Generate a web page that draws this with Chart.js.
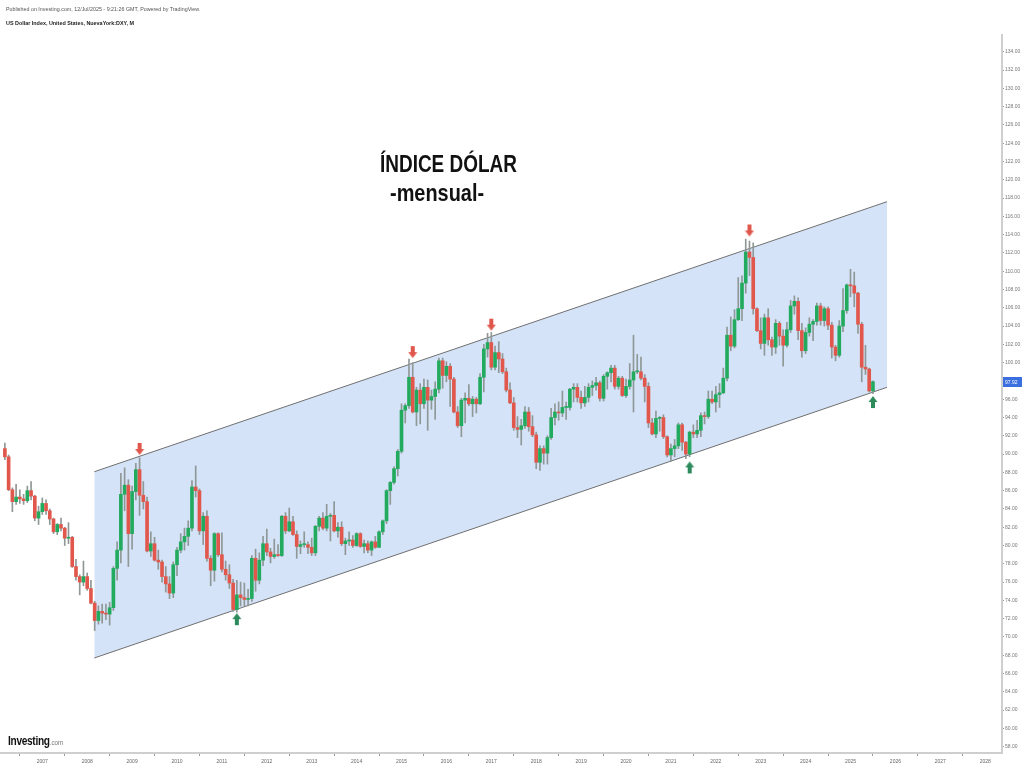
<!DOCTYPE html>
<html>
<head>
<meta charset="utf-8">
<script src="https://cdn.jsdelivr.net/npm/chart.js@4.4.1/dist/chart.umd.min.js"></script>
<style>
  html, body { margin: 0; padding: 0; background: #fff; }
  #wrap { position: relative; width: 1024px; height: 768px; overflow: hidden; }
  #grafico { position: absolute; left: 0; top: 0; }
  .txt { position: absolute; white-space: nowrap; font-family: 'Liberation Sans', Arial, sans-serif; transform-origin: 0 0; }
  #pub { left: 6px; top: 6px; font-size: 6px; color: #555; transform: scaleX(0.89); }
  #sym { left: 6px; top: 20px; font-size: 6px; font-weight: bold; color: #222; transform: scaleX(0.9); }
  #titulo { left: 380px; top: 150px; font-size: 24px; font-weight: bold; color: #111; transform: scaleX(0.79); }
  #sub { left: 390px; top: 179px; font-size: 24px; font-weight: bold; color: #111; transform: scaleX(0.83); }
  #logo { left: 8px; top: 733px; font-size: 13px; font-weight: bold; color: #111; letter-spacing: -0.4px; transform: scaleX(0.78); }
  #logo span { font-size: 8px; font-weight: normal; color: #777; letter-spacing: 0; }
</style>
</head>
<body>
<div id="wrap">
  <canvas id="grafico" width="1024" height="768"></canvas>
  <div class="txt" id="pub">Published on Investing.com, 12/Jul/2025 - 9:21:26 GMT, Powered by TradingView.</div>
  <div class="txt" id="sym">US Dollar Index, United States, NuevaYork:DXY, M</div>
  <div class="txt" id="titulo">ÍNDICE DÓLAR</div>
  <div class="txt" id="sub">-mensual-</div>
  <div class="txt" id="logo">Investing<span>.com</span></div>
</div>
<script>
// velas mensais do DXY, primeira vela = mar/2006
const inicio = { ano: 2006, mes: 3 };

const abertura = [
  90.6, 89.7, 86.1, 84.8, 85.3, 85.1, 84.9, 86.0, 85.4, 83.0,                 // 2006
  83.7, 84.6, 83.8, 82.9, 81.5, 82.3, 81.9, 80.8, 80.9, 77.7, 76.6, 76.0,     // 2007
  76.6, 75.3, 73.7, 71.8, 72.8, 72.6, 72.5, 73.2, 77.5, 79.5, 85.6, 86.6,     // 2008
  81.3, 85.9, 88.3, 85.5, 84.8, 79.4, 80.2, 78.4, 78.2, 76.6, 75.8, 74.8,     // 2009
  77.9, 79.5, 80.4, 81.0, 81.9, 86.4, 86.0, 81.6, 83.2, 78.6, 77.3, 81.3,     // 2010
  79.0, 77.4, 76.8, 75.9, 73.0, 74.6, 74.3, 74.1, 74.2, 78.6, 76.2, 78.4,     // 2011
  80.2, 79.3, 78.8, 79.0, 78.9, 83.2, 81.6, 82.6, 81.2, 79.9, 80.1, 80.1,     // 2012
  79.8, 79.2, 82.1, 83.0, 81.9, 83.2, 83.3, 81.6, 82.0, 80.2, 80.5, 80.6,     // 2013
  80.0, 81.3, 79.9, 80.2, 79.5, 80.4, 79.8, 81.5, 82.7, 86.0, 86.9, 88.4,     // 2014
  90.3, 94.8, 95.3, 98.4, 94.6, 97.0, 95.5, 97.3, 95.9, 96.3, 97.1, 100.2,    // 2015
  98.6, 99.6, 98.2, 94.6, 93.1, 95.9, 96.1, 95.5, 96.0, 95.5, 98.4, 101.5,    // 2016
  102.2, 99.5, 101.1, 100.4, 99.0, 97.0, 95.6, 92.9, 92.7, 93.1, 94.6, 93.0,  // 2017
  92.1, 89.1, 90.6, 90.1, 91.8, 94.0, 94.6, 94.5, 95.1, 95.1, 97.1, 97.3,     // 2018
  96.2, 95.6, 96.2, 97.3, 97.5, 97.8, 96.1, 98.5, 98.9, 99.4, 97.4, 98.3,     // 2019
  96.4, 97.4, 98.1, 99.0, 99.0, 98.3, 97.4, 93.4, 92.2, 93.9, 94.0, 91.9,     // 2020
  89.9, 90.6, 90.9, 93.2, 91.3, 90.0, 92.4, 92.2, 92.6, 94.2, 94.1, 96.0,     // 2021
  95.7, 96.5, 96.7, 98.3, 103.0, 101.8, 104.7, 105.9, 108.7, 112.1, 111.5, 105.9, // 2022
  103.5, 102.1, 104.9, 102.5, 101.7, 104.3, 102.9, 101.9, 103.6, 106.2, 106.7, 103.5, // 2023
  101.3, 103.3, 104.2, 104.5, 106.2, 104.6, 105.9, 104.1, 101.7, 100.8, 104.0, 105.7, // 2024
  108.5, 108.4, 107.6, 104.2, 99.5, 99.3, 96.9                                 // 2025
];

const maxima = [
  91.2, 89.9, 86.3, 86.7, 86.1, 85.6, 86.5, 87.0, 85.5, 84.3,
  85.2, 85.0, 84.0, 83.0, 82.4, 83.0, 82.0, 82.5, 81.0, 78.5, 76.8, 78.3,
  77.0, 76.2, 73.9, 73.4, 73.6, 73.6, 73.8, 77.7, 80.4, 87.9, 88.5, 87.2,
  86.5, 89.0, 89.6, 87.0, 85.3, 81.5, 80.9, 79.5, 78.4, 77.7, 76.6, 78.2,
  79.8, 81.3, 81.9, 82.7, 87.1, 88.7, 86.2, 83.6, 83.8, 78.9, 81.4, 81.4,
  81.4, 78.3, 77.9, 76.3, 76.2, 76.0, 75.9, 75.2, 78.9, 79.6, 79.2, 81.0,
  81.8, 79.7, 80.7, 80.1, 83.3, 83.6, 84.1, 83.2, 81.6, 80.5, 81.5, 80.4,
  80.8, 82.2, 83.2, 83.6, 84.5, 83.5, 84.8, 82.5, 82.6, 80.8, 81.5, 81.1,
  81.4, 81.4, 80.6, 80.5, 80.5, 81.0, 81.6, 82.8, 86.1, 87.0, 88.6, 90.5,
  95.5, 95.5, 100.4, 100.0, 97.3, 97.7, 98.2, 98.1, 97.0, 97.9, 100.5, 100.5,
  100.1, 99.9, 98.4, 95.2, 96.1, 96.7, 97.6, 96.3, 96.2, 98.8, 102.0, 103.2,
  103.3, 101.8, 102.3, 101.0, 99.4, 97.8, 96.2, 94.1, 93.8, 95.2, 95.1, 94.2,
  92.4, 90.9, 90.9, 92.0, 95.0, 95.5, 95.7, 96.9, 95.7, 97.2, 97.7, 97.7,
  96.9, 97.4, 97.7, 98.0, 98.4, 98.0, 98.7, 99.0, 99.7, 99.7, 98.5, 98.5,
  98.2, 99.9, 103.0, 100.9, 100.6, 98.7, 97.8, 93.9, 94.7, 94.1, 94.3, 92.0,
  91.1, 91.6, 93.4, 93.4, 91.4, 92.5, 93.2, 93.7, 94.5, 94.6, 96.9, 96.9,
  97.4, 97.7, 99.4, 103.9, 105.0, 105.8, 109.3, 109.5, 113.5, 113.3, 113.1, 106.0,
  104.9, 105.3, 105.9, 102.8, 104.7, 104.5, 103.6, 104.4, 106.8, 107.3, 107.1, 104.3,
  103.8, 104.9, 104.7, 106.5, 106.5, 106.1, 106.1, 104.4, 101.9, 104.6, 108.1, 108.6,
  110.2, 109.9, 107.7, 104.4, 101.9, 99.4, 98.0
];

const minima = [
  89.4, 86.0, 83.7, 84.5, 84.6, 84.5, 84.7, 85.0, 82.7, 82.3,
  83.4, 83.4, 82.3, 81.3, 81.2, 81.6, 80.0, 80.2, 77.6, 76.2, 74.6, 75.6,
  75.1, 73.6, 70.7, 71.4, 71.5, 71.9, 71.3, 72.9, 76.2, 78.1, 83.8, 77.7,
  79.6, 85.0, 83.3, 84.0, 79.3, 78.8, 78.3, 77.4, 76.0, 74.9, 74.2, 74.3,
  76.7, 79.2, 79.5, 80.0, 81.6, 85.3, 81.2, 80.1, 78.3, 75.6, 76.1, 78.8,
  77.1, 76.2, 75.3, 72.8, 72.7, 73.4, 73.4, 73.4, 73.9, 75.0, 75.8, 77.8,
  78.9, 78.1, 78.6, 78.8, 78.8, 81.3, 81.5, 81.1, 78.6, 79.1, 79.8, 79.1,
  78.9, 78.9, 81.6, 81.7, 81.6, 80.5, 81.5, 80.9, 80.0, 79.0, 80.0, 79.8,
  79.9, 79.8, 79.2, 79.2, 78.9, 79.7, 79.8, 81.2, 82.4, 84.5, 86.7, 87.6,
  90.1, 93.4, 95.0, 94.5, 93.1, 93.3, 95.0, 92.6, 94.9, 93.8, 96.7, 97.2,
  97.9, 95.2, 94.5, 92.9, 91.9, 93.4, 95.3, 94.1, 94.5, 95.4, 96.8, 100.6,
  99.2, 99.2, 98.9, 98.8, 96.8, 95.5, 92.6, 91.8, 91.0, 92.8, 92.5, 91.9,
  88.4, 88.2, 88.9, 88.9, 91.6, 93.2, 93.7, 94.1, 93.8, 94.8, 95.7, 95.7,
  95.0, 95.2, 95.7, 96.4, 97.0, 95.8, 95.8, 97.1, 97.9, 97.1, 97.1, 96.3,
  96.2, 97.1, 94.6, 98.8, 98.1, 95.7, 92.9, 92.1, 91.8, 92.5, 91.7, 89.7,
  89.2, 89.7, 90.6, 90.4, 89.5, 89.7, 91.8, 91.8, 91.9, 93.3, 93.9, 95.5,
  94.6, 95.1, 96.6, 98.0, 101.3, 101.6, 104.6, 104.6, 107.6, 109.5, 105.3, 103.4,
  101.5, 100.8, 101.9, 100.8, 101.0, 101.9, 99.6, 101.7, 103.3, 105.3, 102.5, 100.6,
  101.0, 102.9, 102.4, 104.1, 104.1, 104.0, 103.6, 100.5, 100.2, 100.6, 103.4, 105.4,
  107.2, 106.1, 103.2, 97.9, 98.7, 96.8, 96.6
];

const fechamento = [
  89.7, 86.1, 84.8, 85.3, 85.1, 84.9, 86.0, 85.4, 83.0, 83.7,
  84.6, 83.8, 82.9, 81.5, 82.3, 81.9, 80.8, 80.9, 77.7, 76.6, 76.0, 76.6,
  75.3, 73.7, 71.8, 72.8, 72.6, 72.5, 73.2, 77.5, 79.5, 85.6, 86.6, 81.3,
  85.9, 88.3, 85.5, 84.8, 79.4, 80.2, 78.4, 78.2, 76.6, 75.8, 74.8, 77.9,
  79.5, 80.4, 81.0, 81.9, 86.4, 86.0, 81.6, 83.2, 78.6, 77.3, 81.3, 79.0,
  77.4, 76.8, 75.9, 73.0, 74.6, 74.3, 74.1, 74.2, 78.6, 76.2, 78.4, 80.2,
  79.3, 78.8, 79.0, 78.9, 83.2, 81.6, 82.6, 81.2, 79.9, 80.1, 80.1, 79.8,
  79.2, 82.1, 83.0, 81.9, 83.2, 83.3, 81.6, 82.0, 80.2, 80.5, 80.6, 80.0,
  81.3, 79.9, 80.2, 79.5, 80.4, 79.8, 81.5, 82.7, 86.0, 86.9, 88.4, 90.3,
  94.8, 95.3, 98.4, 94.6, 97.0, 95.5, 97.3, 95.9, 96.3, 97.1, 100.2, 98.6,
  99.6, 98.2, 94.6, 93.1, 95.9, 96.1, 95.5, 96.0, 95.5, 98.4, 101.5, 102.2,
  99.5, 101.1, 100.4, 99.0, 97.0, 95.6, 92.9, 92.7, 93.1, 94.6, 93.0, 92.1,
  89.1, 90.6, 90.1, 91.8, 94.0, 94.6, 94.5, 95.1, 95.1, 97.1, 97.3, 96.2,
  95.6, 96.2, 97.3, 97.5, 97.8, 96.1, 98.5, 98.9, 99.4, 97.4, 98.3, 96.4,
  97.4, 98.1, 99.0, 99.0, 98.3, 97.4, 93.4, 92.2, 93.9, 94.0, 91.9, 89.9,
  90.6, 90.9, 93.2, 91.3, 90.0, 92.4, 92.2, 92.6, 94.2, 94.1, 96.0, 95.7,
  96.5, 96.7, 98.3, 103.0, 101.8, 104.7, 105.9, 108.7, 112.1, 111.5, 105.9, 103.5,
  102.1, 104.9, 102.5, 101.7, 104.3, 102.9, 101.9, 103.6, 106.2, 106.7, 103.5, 101.3,
  103.3, 104.2, 104.5, 106.2, 104.6, 105.9, 104.1, 101.7, 100.8, 104.0, 105.7, 108.5,
  108.4, 107.6, 104.2, 99.5, 99.3, 96.9, 97.92
];

// canal de alta desenhado no gráfico (ano decimal, valor)
const canalSuperior = [{ x: 2008.158, y: 88.07 }, { x: 2025.813, y: 117.6 }];
const canalInferior = [{ x: 2008.158, y: 67.7 }, { x: 2025.813, y: 97.3 }];

// setas: topos (vermelho) e fundos (verde)
const topos = [
  { x: 2009.167, y: 89.9 },
  { x: 2015.25, y: 100.5 },
  { x: 2017.0, y: 103.5 },
  { x: 2022.75, y: 113.8 }
];
const fundos = [
  { x: 2011.333, y: 72.6 },
  { x: 2021.417, y: 89.2 },
  { x: 2025.5, y: 96.35 }
];

const fonte = "'Liberation Sans', Arial, sans-serif";
const corAlta = '#22ab5e';
const corBaixa = '#e2574c';
const corPavio = '#8f9896';

const meses = fechamento.map((_, i) => inicio.ano + (inicio.mes - 1 + i) / 12);
const pavios = meses.map((x, i) => ({ x: x, y: [minima[i], maxima[i]] }));
const corpos = meses.map((x, i) => ({ x: x, y: [abertura[i], fechamento[i]] }));
const coresCorpo = fechamento.map((c, i) => c >= abertura[i] ? corAlta : corBaixa);

function criarSeta(cor, paraBaixo) {
  const c = document.createElement('canvas');
  c.width = 10;
  c.height = 28;
  const g = c.getContext('2d');
  g.fillStyle = cor;
  g.beginPath();
  if (paraBaixo) {
    g.moveTo(5, 14); g.lineTo(0.5, 8); g.lineTo(3, 8); g.lineTo(3, 2);
    g.lineTo(7, 2); g.lineTo(7, 8); g.lineTo(9.5, 8);
  } else {
    g.moveTo(5, 14); g.lineTo(0.5, 20); g.lineTo(3, 20); g.lineTo(3, 26);
    g.lineTo(7, 26); g.lineTo(7, 20); g.lineTo(9.5, 20);
  }
  g.closePath();
  g.fill();
  return c;
}

const etiquetaPreco = {
  id: 'etiquetaPreco',
  afterDraw(chart) {
    const { ctx } = chart;
    const y = chart.scales.y;
    const valor = fechamento[fechamento.length - 1];
    const py = Math.round(y.getPixelForValue(valor));
    ctx.save();
    ctx.fillStyle = '#3b6fe0';
    ctx.fillRect(y.left + 1, py - 5, 19, 10);
    ctx.fillStyle = '#fff';
    ctx.font = '5px ' + fonte;
    ctx.textBaseline = 'middle';
    ctx.fillText(valor.toFixed(2), y.left + 3, py + 0.5);
    ctx.restore();
  }
};

new Chart(document.getElementById('grafico'), {
  type: 'bar',
  data: {
    datasets: [
      {
        type: 'line',
        data: canalSuperior,
        borderColor: '#6f6f6f',
        borderWidth: 1,
        pointRadius: 0,
        backgroundColor: '#d4e3f8',
        fill: '+1',
        order: 5
      },
      {
        type: 'line',
        data: canalInferior,
        borderColor: '#6f6f6f',
        borderWidth: 1,
        pointRadius: 0,
        fill: false,
        order: 5
      },
      {
        data: pavios,
        backgroundColor: corPavio,
        barThickness: 1,
        grouped: false,
        borderSkipped: false,
        order: 2
      },
      {
        data: corpos,
        backgroundColor: coresCorpo,
        barThickness: 3,
        minBarLength: 1,
        grouped: false,
        borderSkipped: false,
        order: 1
      },
      {
        type: 'line',
        data: topos,
        showLine: false,
        pointStyle: criarSeta('#e0584d', true),
        order: 0
      },
      {
        type: 'line',
        data: fundos,
        showLine: false,
        pointStyle: criarSeta('#2c8a5b', false),
        order: 0
      }
    ]
  },
  options: {
    responsive: false,
    animation: false,
    devicePixelRatio: 1,
    layout: { autoPadding: false, padding: { top: 35, left: 0, right: 0, bottom: 0 } },
    plugins: {
      legend: { display: false },
      tooltip: { enabled: false },
      filler: { drawTime: 'beforeDatasetsDraw' }
    },
    scales: {
      x: {
        type: 'linear',
        min: 2006.058,
        max: 2028.374,
        offset: false,
        grid: { drawOnChartArea: false, tickLength: 3, color: '#999' },
        border: { color: '#cfcfcf', width: 2 },
        ticks: {
          stepSize: 1,
          includeBounds: false,
          autoSkip: false,
          maxRotation: 0,
          padding: 3,
          color: '#666',
          font: { family: fonte, size: 5 },
          callback: (v) => String(v)
        },
        afterFit: (s) => { s.height = 15; }
      },
      y: {
        position: 'right',
        min: 57.31,
        max: 135.83,
        grid: { drawOnChartArea: false, tickLength: 2, color: '#999' },
        border: { color: '#cfcfcf', width: 2 },
        ticks: {
          stepSize: 2,
          includeBounds: false,
          padding: 1,
          color: '#777',
          font: { family: fonte, size: 5 },
          callback: (v) => v.toFixed(2)
        },
        afterFit: (s) => { s.width = 22; }
      }
    }
  },
  plugins: [etiquetaPreco]
});
</script>
</body>
</html>
